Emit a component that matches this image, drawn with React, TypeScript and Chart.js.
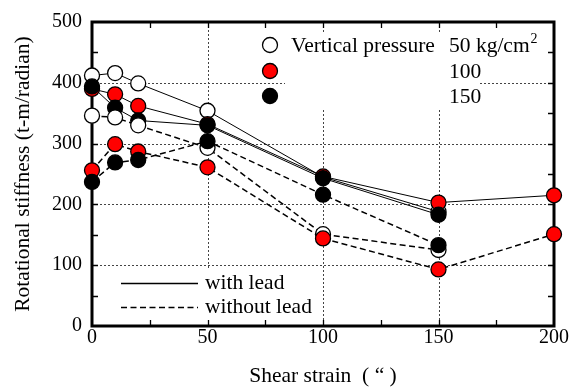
import React, { useEffect, useRef } from 'react';
import { Chart, registerables } from 'chart.js';

Chart.register(...registerables);

const strains = [0, 10, 20, 50, 100, 150, 200];
const withLead50 = [412, 416, 399, 354, 245, 188];
const withLead100 = [390, 381, 362, 332, 246, 203, 215];
const withLead150 = [394, 359, 338, 330, 243, 183];
const withoutLead50 = [346, 343, 330, 293, 151, 125];
const withoutLead100 = [256, 299, 287, 261, 144, 93, 151];
const withoutLead150 = [237, 269, 273, 304, 216, 133];

const xGridValues = [50, 100, 150];
const yGridValues = [100, 200, 300, 400];
const xMinorTicks = [25, 50, 75, 100, 125, 150, 175];
const yMinorTicks = [50, 100, 150, 200, 250, 300, 350, 400, 450];

const pressureLabels = ['50 kg/cm', '100', '150'];
const pressureColors = ['#ffffff', '#ff0000', '#000000'];
const FONT = '"Liberation Serif", "Times New Roman", serif';
const BIG = 21.5;

const toPoints = (vals: number[]) => vals.map((v, i) => ({ x: strains[i], y: v }));

const mk = (vals: number[], color: string, dashed: boolean) => ({
  data: toPoints(vals),
  borderColor: '#000',
  borderWidth: dashed ? 1.5 : 1,
  borderDash: dashed ? [6, 3.5] : [],
  pointRadius: 7.5,
  pointBackgroundColor: color,
  pointBorderColor: '#000',
  pointBorderWidth: 1.3,
  tension: 0,
  clip: false as const,
});

const decorPlugin = {
  id: 'decor',
  beforeDatasetsDraw(chart: any) {
    const { ctx, chartArea } = chart;
    const xs = chart.scales.x;
    const ys = chart.scales.y;
    const { left, right, top, bottom } = chartArea;
    ctx.save();
    // grid
    ctx.strokeStyle = '#444';
    ctx.lineWidth = 1;
    ctx.setLineDash([2, 2]);
    yGridValues.forEach((v) => {
      const y = Math.round(ys.getPixelForValue(v)) + 0.5;
      ctx.beginPath();
      ctx.moveTo(left, y);
      ctx.lineTo(right, y);
      ctx.stroke();
    });
    xGridValues.forEach((v) => {
      const x = Math.round(xs.getPixelForValue(v)) + 0.5;
      ctx.beginPath();
      ctx.moveTo(x, top);
      ctx.lineTo(x, bottom);
      ctx.stroke();
    });
    ctx.setLineDash([]);
    // white legend backgrounds
    ctx.fillStyle = '#fff';
    ctx.fillRect(285, 33, 195, 75);
    ctx.fillRect(left + 2, 268, 226, bottom - 268 - 2);
    // ticks
    ctx.strokeStyle = '#000';
    ctx.lineWidth = 1.3;
    const tl = 6;
    xMinorTicks.forEach((v) => {
      const x = Math.round(xs.getPixelForValue(v)) + 0.5;
      ctx.beginPath();
      ctx.moveTo(x, top);
      ctx.lineTo(x, top + tl);
      ctx.moveTo(x, bottom);
      ctx.lineTo(x, bottom - tl);
      ctx.stroke();
    });
    yMinorTicks.forEach((v) => {
      const y = Math.round(ys.getPixelForValue(v)) + 0.5;
      ctx.beginPath();
      ctx.moveTo(left, y);
      ctx.lineTo(left + tl, y);
      ctx.moveTo(right, y);
      ctx.lineTo(right - tl, y);
      ctx.stroke();
    });
    // frame
    ctx.lineWidth = 3;
    ctx.strokeRect(left, top, right - left, bottom - top);
    ctx.restore();
  },
  afterDatasetsDraw(chart: any) {
    const { ctx } = chart;
    ctx.save();
    // pressure legend
    const rows = [45, 71, 96];
    rows.forEach((cy, i) => {
      ctx.beginPath();
      ctx.arc(270, cy, 7.5, 0, Math.PI * 2);
      ctx.fillStyle = pressureColors[i];
      ctx.fill();
      ctx.lineWidth = 1.3;
      ctx.strokeStyle = '#000';
      ctx.stroke();
    });
    ctx.fillStyle = '#000';
    ctx.font = `${BIG}px ${FONT}`;
    ctx.textBaseline = 'alphabetic';
    ctx.textAlign = 'left';
    ctx.fillText('Vertical pressure', 291, rows[0] + 7);
    rows.forEach((cy, i) => {
      ctx.fillText(pressureLabels[i], 449, cy + 7);
    });
    const w = ctx.measureText(pressureLabels[0]).width;
    ctx.font = `14px ${FONT}`;
    ctx.fillText('2', 449 + w + 1, rows[0] - 2);
    // line legend
    ctx.strokeStyle = '#000';
    ctx.lineWidth = 1.3;
    ctx.beginPath();
    ctx.moveTo(121, 283.5);
    ctx.lineTo(198, 283.5);
    ctx.stroke();
    ctx.lineWidth = 1.5;
    ctx.setLineDash([6, 3.5]);
    ctx.beginPath();
    ctx.moveTo(121, 307.5);
    ctx.lineTo(198, 307.5);
    ctx.stroke();
    ctx.setLineDash([]);
    ctx.font = `${BIG}px ${FONT}`;
    ctx.fillText('with lead', 205, 289);
    ctx.fillText('without lead', 205, 313);
    ctx.restore();
  },
};

export default function App() {
  const ref = useRef<HTMLCanvasElement | null>(null);
  useEffect(() => {
    if (!ref.current) return;
    const chart = new Chart(ref.current, {
      type: 'line',
      data: {
        datasets: [
          mk(withoutLead150, pressureColors[2], true),
          mk(withoutLead100, pressureColors[1], true),
          mk(withoutLead50, pressureColors[0], true),
          mk(withLead150, pressureColors[2], false),
          mk(withLead100, pressureColors[1], false),
          mk(withLead50, pressureColors[0], false),
        ] as any,
      },
      options: {
        responsive: false,
        animation: false,
        devicePixelRatio: 1,
        layout: { padding: { left: 0, top: 18, right: 22, bottom: 0 } },
        plugins: { legend: { display: false }, tooltip: { enabled: false } },
        scales: {
          x: {
            type: 'linear',
            min: 0,
            max: 200,
            ticks: { stepSize: 50, color: '#000', font: { family: FONT, size: 20 }, padding: 0, maxRotation: 0 },
            grid: { display: false, drawTicks: false },
            border: { display: false },
            title: {
              display: true,
              text: 'Shear strain  ( \u201c )',
              color: '#000',
              font: { family: FONT, size: BIG },
              padding: { top: 0, bottom: 1 },
            },
            afterFit: (s: any) => { s.height = 64; },
          },
          y: {
            type: 'linear',
            min: 0,
            max: 500,
            ticks: { stepSize: 100, color: '#000', font: { family: FONT, size: 20 }, padding: 10 },
            grid: { display: false, drawTicks: false },
            border: { display: false },
            title: {
              display: true,
              text: 'Rotational stiffness (t-m/radian)',
              color: '#000',
              font: { family: FONT, size: BIG },
              padding: { top: 10, bottom: 0 },
            },
            afterFit: (s: any) => { s.width = 92; },
          },
        },
      },
      plugins: [decorPlugin],
    });
    return () => chart.destroy();
  }, []);
  return (
    <div style={{ position: 'absolute', left: 0, top: 0, width: 576, height: 390, background: '#fff' }}>
      <canvas ref={ref} width={576} height={390} />
    </div>
  );
}
